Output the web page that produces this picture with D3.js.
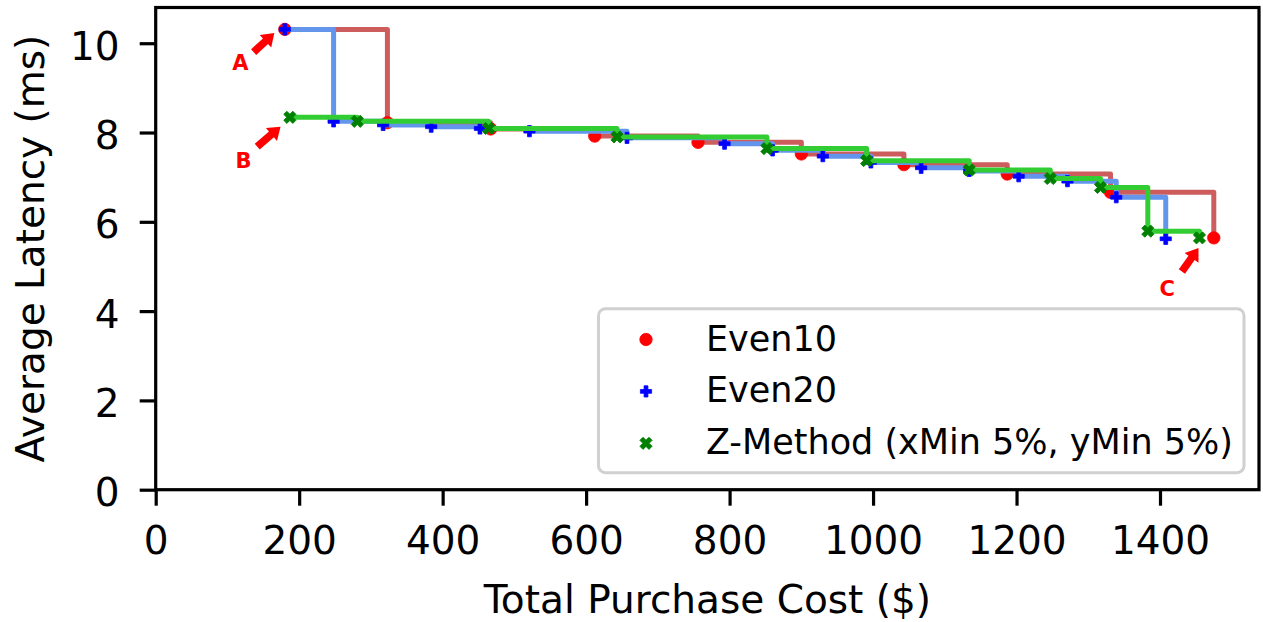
<!DOCTYPE html>
<html>
<head>
<meta charset="utf-8">
<script src="https://cdn.jsdelivr.net/npm/d3@7"></script>
<style>
  body { margin: 0; background: #fff; }
  text { font-family: "DejaVu Sans", sans-serif; }
</style>
</head>
<body>
<script>
// data
var costEven10 = [180, 323, 467, 612, 756, 900, 1043, 1187, 1331, 1475];
var latEven10  = [10.31, 8.22, 8.08, 7.92, 7.78, 7.52, 7.28, 7.07, 6.66, 5.64];

var costEven20 = [180, 248, 317, 384, 452, 521, 657, 793, 860, 930, 997, 1067, 1134, 1203, 1271, 1339, 1408];
var latEven20  = [10.31, 8.25, 8.17, 8.13, 8.09, 8.03, 7.88, 7.75, 7.60, 7.47, 7.33, 7.21, 7.14, 7.02, 6.91, 6.55, 5.62];

var costZ = [187, 281, 464, 643, 852, 991, 1134, 1247, 1317, 1383, 1455];
var latZ  = [8.34, 8.25, 8.09, 7.90, 7.64, 7.37, 7.16, 6.97, 6.77, 5.79, 5.64];

var seriesNames = ["Even10", "Even20", "Z-Method (xMin 5%, yMin 5%)"];
var xTicks = [0, 200, 400, 600, 800, 1000, 1200, 1400];
var yTicks = [0, 2, 4, 6, 8, 10];

var W = 1263, H = 622;
var margin = {top: 7.5, right: 4, bottom: 132.3, left: 155.7},
    width = W - margin.left - margin.right,
    height = H - margin.top - margin.bottom;

var svg = d3.select("body").append("svg")
    .attr("width", W)
    .attr("height", H);

svg.append("rect").attr("width", W).attr("height", H).attr("fill", "#fff");

var g = svg.append("g")
    .attr("transform", "translate(" + margin.left + "," + margin.top + ")");

var x = d3.scaleLinear().domain([0, 1538]).range([0, width]);
var y = d3.scaleLinear().domain([0, 10.80]).range([height, 0]);

// axes
var xAxis = g.append("g")
    .attr("transform", "translate(0," + height + ")")
    .call(d3.axisBottom(x).tickValues(xTicks).tickFormat(d3.format("d")).tickSize(16).tickPadding(21));
var yAxis = g.append("g")
    .call(d3.axisLeft(y).tickValues(yTicks).tickFormat(d3.format("d")).tickSize(16).tickPadding(20));

[xAxis, yAxis].forEach(function(a) {
  a.select(".domain").remove();
  a.selectAll("line").attr("stroke", "#000").attr("stroke-width", 3.2);
  a.selectAll("text").attr("fill", "#000").style("font-size", "39px");
});
yAxis.selectAll("text").attr("dy", "0.41em");

var series = [
  {name: seriesNames[0], xs: costEven10, ys: latEven10, line: "#cd5c5c", mark: "#ff0000", shape: "circle"},
  {name: seriesNames[1], xs: costEven20, ys: latEven20, line: "#6495ed", mark: "#0000ff", shape: "plus"},
  {name: seriesNames[2], xs: costZ, ys: latZ, line: "#32cd32", mark: "#008000", shape: "x"}
];

function markerPath(shape) {
  if (shape == "circle") return d3.symbol(d3.symbolCircle, Math.PI * 6.2 * 6.2)();
  var a = shape == "plus" ? 5.6 : 6.4, t = shape == "plus" ? 1.9 : 2.2;
  return "M" + (-t) + "," + (-a) + "H" + t + "V" + (-t) + "H" + a + "V" + t + "H" + t +
         "V" + a + "H" + (-t) + "V" + t + "H" + (-a) + "V" + (-t) + "H" + (-t) + "Z";
}

var line = d3.line()
    .x(function(d) { return x(d[0]); })
    .y(function(d) { return y(d[1]); })
    .curve(d3.curveStepAfter);

series.forEach(function(s) {
  var pts = s.xs.map(function(v, i) { return [v, s.ys[i]]; });
  g.append("path")
    .datum(pts)
    .attr("d", line)
    .attr("fill", "none")
    .attr("stroke", s.line)
    .attr("stroke-width", 5)
    .attr("stroke-linejoin", "round");
  g.selectAll(null)
    .data(pts)
    .enter()
    .append("path")
    .attr("d", markerPath(s.shape))
    .attr("transform", function(d) {
      return "translate(" + x(d[0]) + "," + y(d[1]) + ")" + (s.shape == "x" ? " rotate(45)" : "");
    })
    .attr("fill", s.mark)
    .attr("stroke", s.mark)
    .attr("stroke-width", 0.8);
});

// annotation arrows A, B, C (pixel offsets from the marked point)
var notes = [
  {label: "A", px: costEven10[0], py: latEven10[0], tip: [-10.5, 3.7], tail: [-31.2, 22.7], text: [-44.5, 33.5]},
  {label: "B", px: costZ[0], py: latZ[0], tip: [-9.3, 9.3], tail: [-32.6, 29.3], text: [-46.3, 43.1]},
  {label: "C", px: costEven10[9], py: latEven10[9], tip: [-15.3, 10.2], tail: [-31.9, 33.6], text: [-46.6, 50.6]}
];

function arrowPath(x0, y0, x1, y1) {
  var dx = x1 - x0, dy = y1 - y0, len = Math.sqrt(dx * dx + dy * dy);
  var ux = dx / len, uy = dy / len, nx = -uy, ny = ux;
  var w = 3.8, hw = 8.5, hl = 12;
  var bx = x1 - ux * hl, by = y1 - uy * hl;
  var p = [
    [x0 + nx * w, y0 + ny * w], [bx + nx * w, by + ny * w], [bx + nx * hw, by + ny * hw],
    [x1, y1],
    [bx - nx * hw, by - ny * hw], [bx - nx * w, by - ny * w], [x0 - nx * w, y0 - ny * w]
  ];
  return "M" + p.map(function(q) { return q[0] + "," + q[1]; }).join("L") + "Z";
}

notes.forEach(function(n) {
  var cx = x(n.px), cy = y(n.py);
  g.append("path")
    .attr("d", arrowPath(cx + n.tail[0], cy + n.tail[1], cx + n.tip[0], cy + n.tip[1]))
    .attr("fill", "#ff0000");
  g.append("text")
    .attr("x", cx + n.text[0])
    .attr("y", cy + n.text[1])
    .attr("dy", "0.36em")
    .attr("text-anchor", "middle")
    .attr("fill", "#ff0000")
    .style("font-size", "21px")
    .style("font-weight", "bold")
    .text(n.label);
});

// frame
g.append("rect")
  .attr("width", width)
  .attr("height", height)
  .attr("fill", "none")
  .attr("stroke", "#000")
  .attr("stroke-width", 3.2);

// axis labels
svg.append("text")
  .attr("x", margin.left + width / 2)
  .attr("y", 613)
  .attr("text-anchor", "middle")
  .style("font-size", "39px")
  .text("Total Purchase Cost ($)");

svg.append("text")
  .attr("transform", "translate(43.5," + (margin.top + height / 2) + ") rotate(-90)")
  .attr("text-anchor", "middle")
  .style("font-size", "39px")
  .text("Average Latency (ms)");

// legend
var legend = svg.append("g");
legend.append("rect")
  .attr("x", 598.5).attr("y", 308.7)
  .attr("width", 645.5).attr("height", 164)
  .attr("rx", 7).attr("ry", 7)
  .attr("fill", "#fff").attr("fill-opacity", 0.8)
  .attr("stroke", "#d0d0d0").attr("stroke-width", 3);

series.forEach(function(s, i) {
  var ry = 339.5 + i * 51.9;
  legend.append("path")
    .attr("d", markerPath(s.shape))
    .attr("transform", "translate(646," + ry + ")" + (s.shape == "x" ? " rotate(45)" : ""))
    .attr("fill", s.mark)
    .attr("stroke", s.mark)
    .attr("stroke-width", 0.8);
  legend.append("text")
    .attr("x", 706)
    .attr("y", ry + 11)
    .style("font-size", "35px")
    .attr("fill", "#000")
    .text(s.name);
});
</script>
</body>
</html>
